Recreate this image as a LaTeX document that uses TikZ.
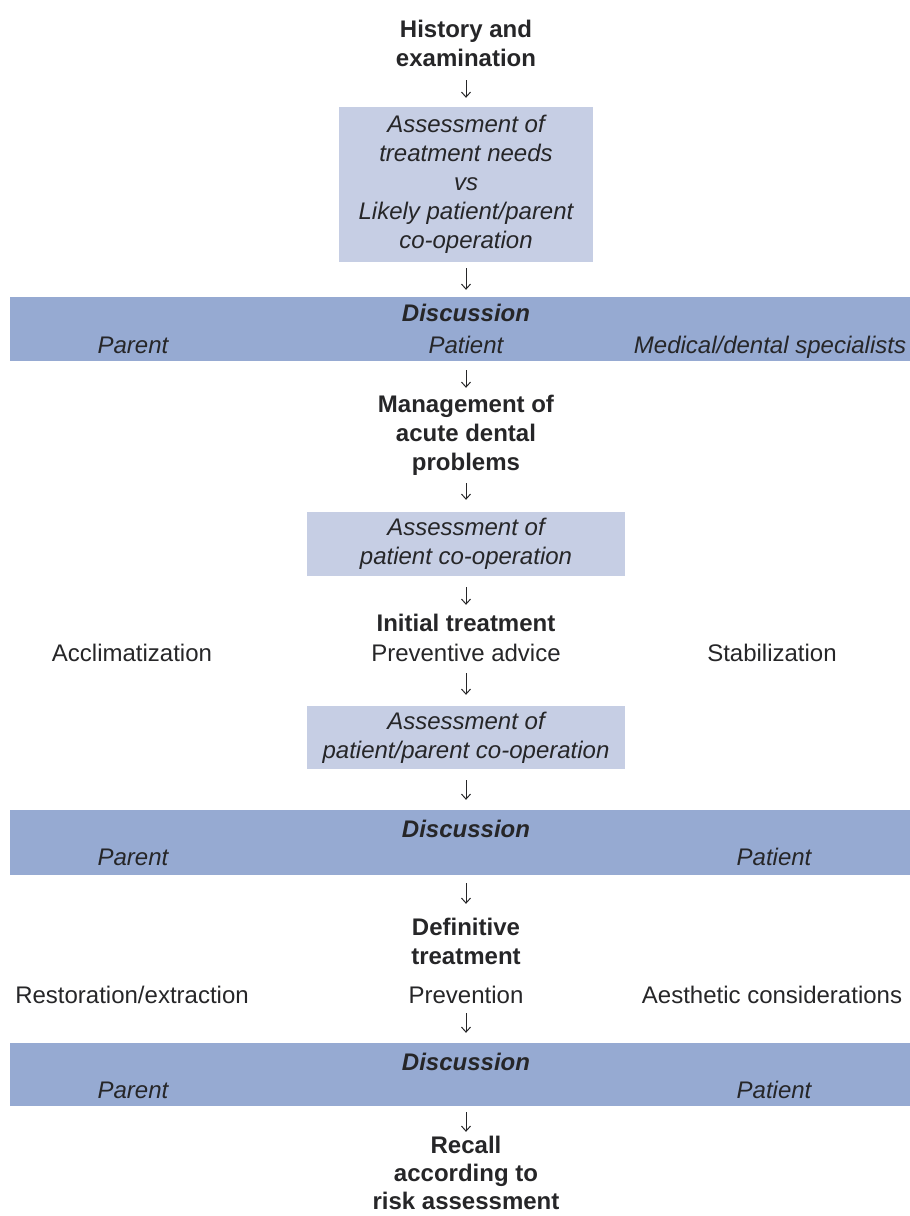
\documentclass[tikz,border=0pt]{standalone}
\usepackage{fontspec}
\setmainfont{Liberation Sans}
\usetikzlibrary{arrows.meta}
\definecolor{bandblue}{RGB}{150,170,210}
\definecolor{boxblue}{RGB}{198,206,228}
\definecolor{ink}{RGB}{38,38,40}
\tikzset{
  base/.style={text=ink, align=center, inner sep=0pt, font=\fontsize{24}{29}\selectfont},
  btxt/.style={base, font=\fontsize{24}{29}\selectfont\bfseries},
  itxt/.style={base, font=\fontsize{24}{29}\selectfont\itshape},
  lab/.style={base, text height=17pt, text depth=0pt},
  blab/.style={lab, font=\fontsize{24}{29}\selectfont\bfseries},
  ilab/.style={lab, font=\fontsize{24}{29}\selectfont\itshape},
  bilab/.style={lab, font=\fontsize{24}{29}\selectfont\bfseries\itshape},
  abox/.style={itxt, fill=boxblue, draw=none},
  band/.style={fill=bandblue, draw=none, inner sep=0pt, minimum width=900},
  arr/.style={draw=ink, line width=1pt, -{Straight Barb[length=5pt,width=9pt]}}
}
\begin{document}
\begin{tikzpicture}[x=1pt,y=-1pt]
\useasboundingbox (0,0) rectangle (910,1216);
% main column
\node[btxt, minimum height=66] (hist) at (466,43) {History and\\examination};
\node[abox, minimum width=254, minimum height=155] (box1) at (466,184.5)
  {Assessment of\\treatment needs\\vs\\Likely patient/parent\\co-operation};
% band 1
\node[band, minimum height=64] (band1) at (460,329) {};
\node[bilab] (disc1) at (466,313) {Discussion};
\node[ilab] (par1) at (133,345) {Parent};
\node[ilab] (pat1) at (466,345) {Patient};
\node[ilab] (med1) at (770,345) {Medical/dental specialists};
% management
\node[btxt, minimum height=86] (mgmt) at (466,435) {Management of\\acute dental\\problems};
\node[abox, minimum width=318, minimum height=64] (box2) at (466,544)
  {Assessment of\\patient co-operation};
\node[blab, minimum height=30] (init) at (466,623) {Initial treatment};
\node[lab] (accl) at (132,653) {Acclimatization};
\node[lab, minimum height=30] (prev) at (466,653) {Preventive advice};
\node[lab] (stab) at (772,653) {Stabilization};
\node[abox, minimum width=318, minimum height=63] (box3) at (466,737.5)
  {Assessment of\\patient/parent co-operation};
% band 2
\node[band, minimum height=65] (band2) at (460,842.5) {};
\node[bilab] (disc2) at (466,829) {Discussion};
\node[ilab] (par2) at (133,857) {Parent};
\node[ilab] (pat2) at (774,857) {Patient};
% definitive
\node[btxt, minimum height=66] (def) at (466,941) {Definitive\\treatment};
\node[lab] (rest) at (132,995) {Restoration/extraction};
\node[lab, minimum height=30] (prevn) at (466,995) {Prevention};
\node[lab] (aest) at (772,995) {Aesthetic considerations};
% band 3
\node[band, minimum height=63] (band3) at (460,1074.5) {};
\node[bilab] (disc3) at (466,1062) {Discussion};
\node[ilab] (par3) at (133,1090) {Parent};
\node[ilab] (pat3) at (774,1090) {Patient};
% recall
\node[btxt, font=\fontsize{24}{28}\selectfont\bfseries, minimum height=76] (recall) at (466,1173) {Recall\\according to\\risk assessment};
% arrows
\draw[arr, shorten <=4pt, shorten >=9pt] (hist.south) -- (box1.north);
\draw[arr, shorten <=6pt, shorten >=7pt] (box1.south) -- (band1.north -| box1.south);
\draw[arr, shorten <=9pt, shorten >=4pt] (band1.south -| mgmt.north) -- (mgmt.north);
\draw[arr, shorten <=5pt, shorten >=12pt] (mgmt.south) -- (box2.north);
\draw[arr, shorten <=11pt, shorten >=3pt] (box2.south) -- (init.north);
\draw[arr, shorten <=5pt, shorten >=11pt] (prev.south) -- (box3.north);
\draw[arr, shorten <=11pt, shorten >=10pt] (box3.south) -- (band2.north -| box3.south);
\draw[arr, shorten <=8pt, shorten >=4pt] (band2.south -| def.north) -- (def.north);
\draw[arr, shorten <=3pt, shorten >=10pt] (prevn.south) -- (band3.north -| prevn.south);
\draw[arr, shorten <=6pt, shorten >=3pt] (band3.south -| recall.north) -- (recall.north);
\end{tikzpicture}
\end{document}
